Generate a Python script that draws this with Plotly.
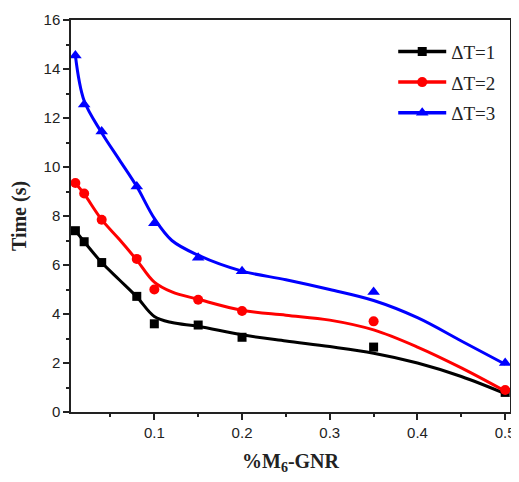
import plotly.graph_objects as go

# measured points
x_pts = [0.01, 0.02, 0.04, 0.08, 0.1, 0.15, 0.2, 0.35, 0.5]
t1_pts = [7.4, 6.95, 6.1, 4.72, 3.6, 3.55, 3.05, 2.65, 0.8]
t2_pts = [9.35, 8.92, 7.85, 6.25, 5.0, 4.58, 4.12, 3.7, 0.9]
t3_pts = [14.55, 12.55, 11.45, 9.2, 7.7, 6.3, 5.75, 4.9, 2.0]

# smoothed fit curves
x_fit = [0.01, 0.02, 0.04, 0.06, 0.08, 0.1, 0.12, 0.15, 0.2, 0.25, 0.3, 0.35, 0.4, 0.45, 0.5]
t1_fit = [7.4, 6.95, 6.1, 5.4, 4.7, 3.9, 3.65, 3.5, 3.15, 2.9, 2.67, 2.4, 2.0, 1.45, 0.75]
t2_fit = [9.35, 8.9, 7.85, 7.05, 6.2, 5.3, 4.9, 4.6, 4.15, 3.95, 3.75, 3.35, 2.65, 1.8, 0.85]
t3_fit = [14.55, 12.7, 11.4, 10.3, 9.2, 7.9, 7.0, 6.4, 5.75, 5.4, 5.0, 4.55, 3.85, 2.9, 1.95]

names = ["ΔT=1", "ΔT=2", "ΔT=3"]
colors = ["#000000", "#ff0000", "#0000ff"]
symbols = ["square", "circle", "triangle-up"]
msizes = [9, 10, 11]

fig = go.Figure()
for i, (fit, pts, name, c, s, ms) in enumerate(zip([t1_fit, t2_fit, t3_fit], [t1_pts, t2_pts, t3_pts],
                                                   names, colors, symbols, msizes)):
    fig.add_trace(go.Scatter(x=x_fit, y=fit, mode="lines", line=dict(color=c, width=3, shape="spline", smoothing=1),
                             showlegend=False, hoverinfo="skip"))
    fig.add_trace(go.Scatter(x=x_pts, y=pts, mode="markers", marker=dict(color=c, symbol=s, size=ms),
                             showlegend=False, cliponaxis=False))
    fig.add_trace(go.Scatter(x=[None], y=[None], mode="lines+markers", name=name, legendgroup=f"g{i}",
                             line=dict(color=c, width=3.5), marker=dict(color=c, symbol=s, size=ms)))

axis_common = dict(showline=True, linecolor="#222", linewidth=1.5, mirror=True, showgrid=False,
                   zeroline=False, ticks="outside", ticklen=6, tickwidth=1.5, tickcolor="#222",
                   ticklabeloverflow="allow",
                   tickfont=dict(family="Liberation Sans, Arial", size=15, color="#222"))

fig.update_xaxes(range=[0.005, 0.5055], tickvals=[0.1, 0.2, 0.3, 0.4, 0.5],
                 ticktext=["0.1", "0.2", "0.3", "0.4", "0.5"],
                 minor=dict(tickvals=[0.05, 0.15, 0.25, 0.35, 0.45], ticks="outside", ticklen=3, tickwidth=1.5, tickcolor="#222"),
                 title=dict(text="<b>%M<sub>6</sub>-GNR</b>", font=dict(family="Liberation Serif, Times New Roman", size=20, color="#222"), standoff=14),
                 **axis_common)
fig.update_yaxes(range=[0, 16], dtick=2, tick0=0,
                 minor=dict(dtick=1, ticks="outside", ticklen=3, tickwidth=1.5, tickcolor="#222"),
                 title=dict(text="<b>Time (s)</b>", font=dict(family="Liberation Serif, Times New Roman", size=20, color="#222"), standoff=12),
                 **axis_common)

fig.update_layout(width=511, height=474, margin=dict(l=63, r=5, t=3, b=70),
                  plot_bgcolor="white", paper_bgcolor="white",
                  legend=dict(x=0.98, y=0.968, xanchor="right", yanchor="top", bgcolor="rgba(0,0,0,0)",
                              font=dict(family="Liberation Serif, Times New Roman", size=19, color="#222"),
                              itemwidth=48, tracegroupgap=3))

fig.write_html("out.html")
